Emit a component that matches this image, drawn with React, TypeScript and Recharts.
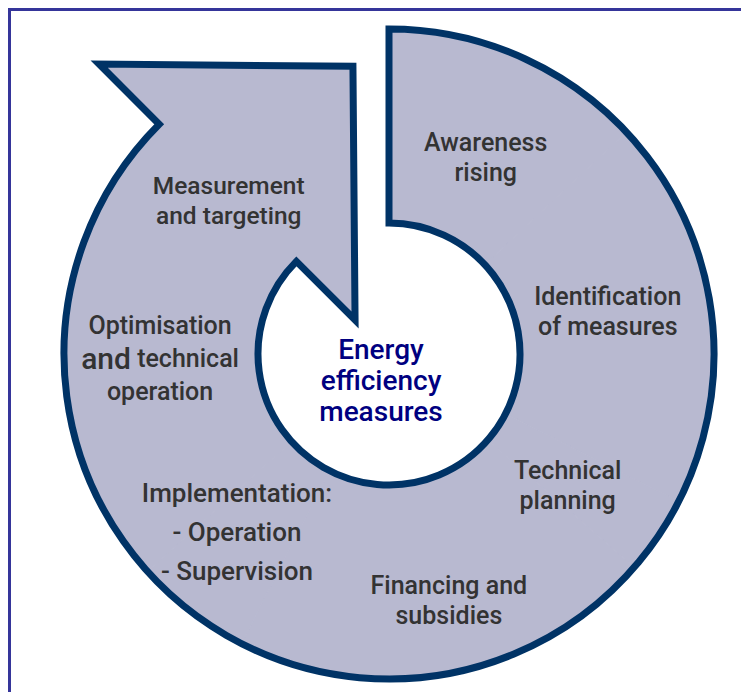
import React from "react";
import { PieChart, Pie, Customized } from "recharts";

// ---- data ----
const steps = [
  "Awareness rising",
  "Identification of measures",
  "Technical planning",
  "Financing and subsidies",
  "Implementation",
  "Optimisation and technical operation",
];
const stepLabelLines = [
  ["Awareness", "rising"],
  ["Identification", "of measures"],
  ["Technical", "planning"],
  ["Financing and", "subsidies"],
  ["Implementation:", "- Operation", "- Supervision"],
  ["Optimisation", "and technical", "operation"],
];
const stepWeights = [47, 70, 14, 76, 21, 87];
const arrowStepLines = ["Measurement", "and targeting"];
const centerLines = ["Energy", "efficiency", "measures"];

const pieData = steps.map((name, i) => ({ name, value: stepWeights[i] }));

// ---- layout / style ----
const W = 741;
const H = 692;
const CX = 389;
const CY = 354;
const R_IN = 131;
const R_OUT = 325;
const START = 90;
const END = -225;
const LABEL_R = 230;
const LABEL_NUDGE: [number, number][] = [
  [5, 14],
  [-9, -10],
  [-12, 3],
  [16, 21],
  [-12, -4],
  [1, 11],
];
const FILL = "#b8b9d0";
const NAVY = "#003366";
const TEXT = "#333333";
const FONT = "Roboto, 'Liberation Sans', Arial, sans-serif";
const WEIGHT = 500;
const RAD = Math.PI / 180;

const polar = (r: number, deg: number) => ({
  x: CX + r * Math.cos(-deg * RAD),
  y: CY + r * Math.sin(-deg * RAD),
});

const arrowHead = () => {
  const a = END;
  const outerWing = polar(410, a);
  const innerWing = polar(48, a);
  const mid = polar(229, a);
  const tRad = (a - 90) * RAD;
  const tip = {
    x: mid.x + 178 * Math.cos(-tRad),
    y: mid.y + 178 * Math.sin(-tRad),
  };
  return { outerWing, innerWing, tip };
};

// drawn on top of the ring (label layer)
const Overlay = () => {
  const { outerWing, innerWing, tip } = arrowHead();
  const oStart = polar(R_OUT, START);
  const oEnd = polar(R_OUT, END);
  const iStart = polar(R_IN, START);
  const iEnd = polar(R_IN, END);
  const outline = [
    `M ${oStart.x} ${oStart.y}`,
    `A ${R_OUT} ${R_OUT} 0 1 1 ${oEnd.x} ${oEnd.y}`,
    `L ${outerWing.x} ${outerWing.y}`,
    `L ${tip.x} ${tip.y}`,
    `L ${innerWing.x} ${innerWing.y}`,
    `L ${iEnd.x} ${iEnd.y}`,
    `A ${R_IN} ${R_IN} 0 1 0 ${iStart.x} ${iStart.y}`,
    "Z",
  ].join(" ");
  const mLabel = polar(221, END);
  const lh = 30;
  const m0 = mLabel.y - ((arrowStepLines.length - 1) * lh) / 2 + 3;
  return (
    <g>
      <path d={outline} fill="none" stroke={NAVY} strokeWidth={7} strokeLinejoin="miter" />
      <text textAnchor="middle" fill={TEXT} fontFamily={FONT} fontWeight={WEIGHT} fontSize={24.5}>
        {arrowStepLines.map((l, i) => (
          <tspan key={i} x={mLabel.x - 4} y={m0 + i * lh} dominantBaseline="central">
            {l}
          </tspan>
        ))}
      </text>
    </g>
  );
};

const renderStepLabel = (props: any) => {
  const { cx, cy, midAngle, index } = props;
  const [dx, dy] = LABEL_NUDGE[index] || [0, 0];
  const x = cx + LABEL_R * Math.cos(-midAngle * RAD) + dx;
  const y = cy + LABEL_R * Math.sin(-midAngle * RAD) + dy;
  const lines = stepLabelLines[index] || [];
  const lh = index === 4 ? 39 : index === 5 ? 33 : 30;
  const y0 = y - ((lines.length - 1) * lh) / 2;
  const size = index === 4 ? 26 : 25;
  const label = (
    <text textAnchor="middle" fill={TEXT} fontFamily={FONT} fontWeight={WEIGHT} fontSize={size}>
      {lines.map((l, i) => {
        if (l.startsWith("and ") && index === 5) {
          return (
            <tspan key={i} x={x} y={y0 + i * lh} dominantBaseline="central">
              <tspan fontSize={30}>and</tspan>
              {l.slice(3)}
            </tspan>
          );
        }
        return (
          <tspan key={i} x={x} y={y0 + i * lh} dominantBaseline="central">
            {l}
          </tspan>
        );
      })}
    </text>
  );
  if (index === 0) {
    return (
      <g key={`lbl-${index}`}>
        <Overlay />
        {label}
      </g>
    );
  }
  return <g key={`lbl-${index}`}>{label}</g>;
};

// drawn beneath the ring
const Background = () => {
  const { outerWing, innerWing, tip } = arrowHead();
  const oEnd = polar(R_OUT, END);
  const iEnd = polar(R_IN, END);
  const head = `M ${oEnd.x} ${oEnd.y} L ${outerWing.x} ${outerWing.y} L ${tip.x} ${tip.y} L ${innerWing.x} ${innerWing.y} L ${iEnd.x} ${iEnd.y} Z`;
  const c0 = 349;
  return (
    <g>
      <rect
        x={9.5}
        y={9.5}
        width={W + 40}
        height={H + 40}
        fill="none"
        stroke="#35359a"
        strokeWidth={3}
      />
      <path d={head} fill={FILL} stroke={FILL} strokeWidth={1} />
      <text textAnchor="middle" fill="#000080" fontFamily={FONT} fontWeight={WEIGHT} fontSize={28}>
        {centerLines.map((l, i) => (
          <tspan key={i} x={CX - 8} y={c0 + i * 31} dominantBaseline="central">
            {l}
          </tspan>
        ))}
      </text>
    </g>
  );
};

export default function App() {
  return (
    <div style={{ position: "absolute", left: 0, top: 0, width: W, height: H, background: "#fff" }}>
      <PieChart width={W} height={H} margin={{ top: 0, right: 0, bottom: 0, left: 0 }}>
        <Customized component={Background} />
        <Pie
          data={pieData}
          dataKey="value"
          nameKey="name"
          cx={CX}
          cy={CY}
          innerRadius={R_IN}
          outerRadius={R_OUT}
          startAngle={START}
          endAngle={END}
          paddingAngle={0}
          fill={FILL}
          stroke={FILL}
          strokeWidth={1}
          label={renderStepLabel}
          labelLine={false}
          isAnimationActive={false}
        />
      </PieChart>
    </div>
  );
}
